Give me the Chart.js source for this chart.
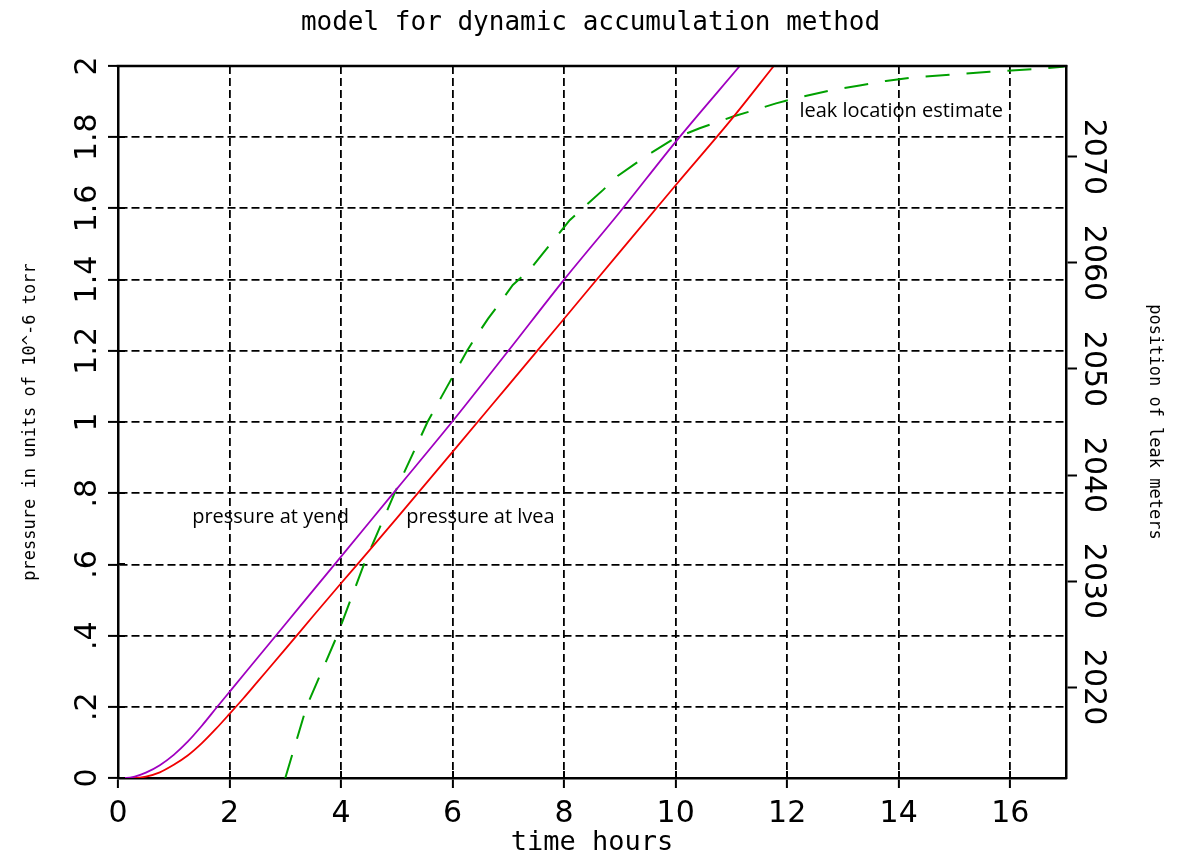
<!DOCTYPE html>
<html>
<head>
<meta charset="utf-8">
<script src="https://cdn.jsdelivr.net/npm/chart.js@4.4.1/dist/chart.umd.min.js"></script>
<style>
  html, body { margin: 0; padding: 0; background: #ffffff; }
  #wrap { width: 1181px; height: 860px; }
</style>
</head>
<body>
<div id="wrap"><canvas id="c" width="1181" height="860"></canvas></div>
<script>
// ---- data ----
const yendX = [0, 0.15, 0.3, 0.5, 0.75, 1.0, 1.25, 1.5, 1.78, 2.0, 2.5, 3.0, 3.5, 4.0, 5.0, 6.0, 7.0, 8.0, 9.0, 10.0, 11.15];
const yendY = [0, 0, 0.004, 0.015, 0.036, 0.065, 0.102, 0.146, 0.2, 0.242, 0.337, 0.432, 0.527, 0.622, 0.812, 1.002, 1.2, 1.4, 1.59, 1.787, 2.0];

const lveaX = [0, 0.3, 0.5, 0.75, 1.0, 1.25, 1.5, 1.75, 2.0, 2.25, 2.5, 3.0, 3.5, 4.0, 4.5, 5.0, 6.0, 7.0, 8.0, 9.0, 10.0, 11.0, 11.76];
const lveaY = [0, 0, 0.004, 0.016, 0.037, 0.063, 0.097, 0.137, 0.18, 0.224, 0.27, 0.362, 0.455, 0.547, 0.638, 0.73, 0.916, 1.103, 1.29, 1.478, 1.665, 1.85, 2.0];

const leakX = [3.0, 3.38, 3.93, 4.41, 4.96, 5.55, 6.0, 6.26, 6.4, 6.64, 6.85, 7.08, 7.38, 7.62, 7.86, 8.1, 8.4, 8.7, 8.96, 9.29, 9.59, 9.98, 10.43, 11.03, 11.45, 11.8, 12.22, 12.82, 13.3, 13.77, 14.25, 14.97, 15.63, 16.4, 16.94, 17.0];
const leakY = [0, 0.2, 0.4, 0.6, 0.8, 1.0, 1.127, 1.2, 1.235, 1.291, 1.335, 1.385, 1.427, 1.474, 1.52, 1.567, 1.61, 1.652, 1.691, 1.727, 1.759, 1.797, 1.825, 1.858, 1.878, 1.895, 1.912, 1.933, 1.945, 1.958, 1.968, 1.976, 1.984, 1.991, 1.998, 2.0];

const xTickLabels = ["0", "2", "4", "6", "8", "10", "12", "14", "16"];
const yTickLabels = ["0", ".2", ".4", ".6", ".8", "1", "1.2", "1.4", "1.6", "1.8", "2"];
const rightTickLabels = ["2020", "2030", "2040", "2050", "2060", "2070"];

const titleText = "model for dynamic accumulation method";
const xTitle = "time hours";
const yTitle = "pressure in units of 10^-6 torr";
const y2Title = "position of leak meters";

const noteTexts = ["pressure at yend", "pressure at lvea", "leak location estimate"];
const noteX = [1.33, 5.17, 12.22];
const noteY = [0.716, 0.716, 1.858];

// ---- build ----
const toPts = (xs, ys) => xs.map((x, i) => ({x: x, y: ys[i]}));

const tickFont = {family: "'DejaVu Sans', sans-serif", size: 30};
const monoFam = "'DejaVu Sans Mono', 'Liberation Mono', monospace";

const frame = {
  id: 'frame',
  afterDatasetsDraw(chart) {
    const ctx = chart.ctx;
    const xs = chart.scales.x, ys = chart.scales.y;
    ctx.save();
    ctx.fillStyle = '#000';
    ctx.font = "20px 'Open Sans', 'Noto Sans', sans-serif";
    ctx.textAlign = 'left';
    ctx.textBaseline = 'alphabetic';
    noteTexts.forEach((t, i) => {
      ctx.fillText(t, xs.getPixelForValue(noteX[i]), ys.getPixelForValue(noteY[i]));
    });
    ctx.restore();
  },
  afterDraw(chart) {
    const ctx = chart.ctx, a = chart.chartArea;
    const xs = chart.scales.x, ys = chart.scales.y;
    ctx.save();
    ctx.strokeStyle = '#000';
    ctx.lineWidth = 2.5;
    ctx.beginPath();
    ctx.moveTo(a.left - 1.25, a.top);
    ctx.lineTo(a.right + 1.25, a.top);
    ctx.stroke();
    // inner parts of the tick marks (ticks cross the axis lines)
    ctx.lineWidth = 2;
    ctx.beginPath();
    xs.ticks.forEach(t => {
      const px = Math.round(xs.getPixelForValue(t.value));
      ctx.moveTo(px, a.bottom);
      ctx.lineTo(px, a.bottom - 7);
    });
    ys.ticks.forEach(t => {
      const py = Math.round(ys.getPixelForValue(t.value));
      ctx.moveTo(a.left, py);
      ctx.lineTo(a.left + 7, py);
    });
    ctx.stroke();
    ctx.restore();
  }
};

new Chart(document.getElementById('c'), {
  type: 'line',
  data: {
    datasets: [
      {label: 'pressure at yend', data: toPts(yendX, yendY), borderColor: '#a000c0', borderWidth: 1.8,
       pointRadius: 0, cubicInterpolationMode: 'monotone', yAxisID: 'y'},
      {label: 'pressure at lvea', data: toPts(lveaX, lveaY), borderColor: '#f00000', borderWidth: 1.8,
       pointRadius: 0, cubicInterpolationMode: 'monotone', yAxisID: 'y'},
      {label: 'leak location estimate', data: toPts(leakX, leakY), borderColor: '#00a000', borderWidth: 2,
       borderDash: [24, 17], pointRadius: 0, tension: 0, yAxisID: 'y'}
    ]
  },
  options: {
    responsive: false,
    animation: false,
    devicePixelRatio: 1,
    layout: {padding: 0},
    plugins: {
      legend: {display: false},
      tooltip: {enabled: false},
      title: {
        display: true, text: titleText, color: '#000',
        font: {family: monoFam, size: 26, weight: 'normal', lineHeight: 1.2},
        padding: {top: 8, bottom: 26.8}
      }
    },
    scales: {
      x: {
        type: 'linear', position: 'bottom', min: 0, max: 17,
        afterFit: s => { s.height = 82; },
        border: {display: true, color: '#000', width: 2.5, dash: [8, 4]},
        grid: {display: true, drawOnChartArea: true, color: '#000', lineWidth: 1.8,
               tickLength: 10, tickColor: '#000', tickWidth: 2, tickBorderDash: []},
        ticks: {stepSize: 2, includeBounds: false, color: '#000', font: tickFont, padding: 8,
                maxRotation: 0, minRotation: 0, autoSkip: false,
                callback: (v, i) => xTickLabels[i]},
        title: {display: true, text: xTitle, color: '#000',
                font: {family: monoFam, size: 27, lineHeight: 1.2}, padding: {top: 0, bottom: 1}}
      },
      y: {
        type: 'linear', position: 'left', min: 0, max: 2,
        afterFit: s => { s.width = 118; },
        border: {display: true, color: '#000', width: 2.5, dash: [8, 4]},
        grid: {display: true, drawOnChartArea: true, color: '#000', lineWidth: 1.8,
               tickLength: 10, tickColor: '#000', tickWidth: 2, tickBorderDash: []},
        ticks: {stepSize: 0.2, includeBounds: false, color: '#000', font: tickFont, padding: -4,
                minRotation: 90, maxRotation: 90, crossAlign: 'center', autoSkip: false,
                callback: (v, i) => yTickLabels[i]},
        title: {display: true, text: yTitle, color: '#000',
                font: {family: monoFam, size: 17, lineHeight: 1.2}, padding: {top: 20, bottom: 0}}
      },
      y2: {
        type: 'linear', position: 'right', min: 2011.42, max: 2078.58,
        afterFit: s => { s.width = 115; },
        border: {display: true, color: '#000', width: 2.5},
        grid: {display: true, drawOnChartArea: false, drawTicks: true, tickLength: 11,
               tickColor: '#000', tickWidth: 2},
        ticks: {stepSize: 10, includeBounds: false, color: '#000', font: tickFont, padding: -22,
                minRotation: -90, maxRotation: -90, crossAlign: 'center', autoSkip: false,
                callback: (v, i) => rightTickLabels[i]},
        title: {display: true, text: y2Title, color: '#000',
                font: {family: monoFam, size: 17, lineHeight: 1.2}, padding: {top: 16, bottom: 0}}
      }
    }
  },
  plugins: [frame]
});
</script>
</body>
</html>
